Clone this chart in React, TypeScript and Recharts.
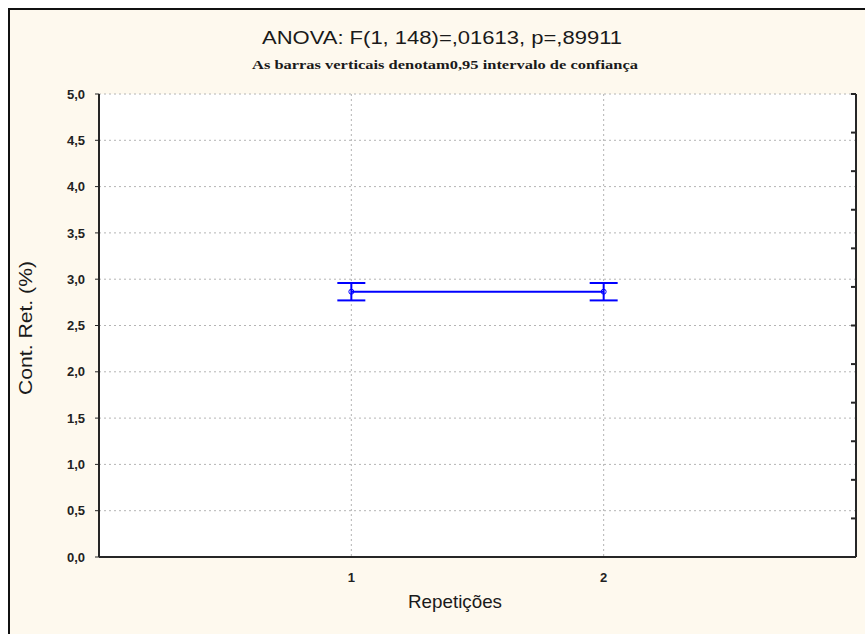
import React from "react";
import {
  ComposedChart,
  Line,
  XAxis,
  YAxis,
  CartesianGrid,
  ErrorBar,
  Customized,
} from "recharts";

// Mean and 95% CI half-width for each repetition
const repeticoes = [1, 2];
const medias = [2.865, 2.865];
const intervalos = [0.094, 0.094];
const yTicks = [0, 0.5, 1, 1.5, 2, 2.5, 3, 3.5, 4, 4.5, 5];
const rightTicks = [0, 1, 2, 3, 4, 5, 6, 7, 8, 9, 10, 11, 12];

const titulo = "ANOVA: F(1, 148)=,01613, p=,89911";
const subtitulo = "As barras verticais denotam0,95 intervalo de confiança";
const eixoY = "Cont. Ret. (%)";
const eixoX = "Repetições";

const data = repeticoes.map((r, i) => ({ x: r, media: medias[i], ic: intervalos[i] }));

const W = 865;
const H = 634;
const BG = "#fef9ee";
const AXIS = "#262626";
const BLUE = "#0000ff";

const fmt = (v: number) => v.toFixed(1).replace(".", ",");

const Textos = () => (
  <g fontFamily="'Liberation Sans', Arial, sans-serif" fill="#1a1a1a">
    <text x={442} y={44} fontSize={18} textAnchor="middle" textLength={360} lengthAdjust="spacingAndGlyphs">
      {titulo}
    </text>
    <text
      x={445}
      y={69}
      fontSize={12}
      fontFamily="'Liberation Serif', 'Times New Roman', serif"
      fontWeight="bold"
      textAnchor="middle"
      textLength={386}
      lengthAdjust="spacingAndGlyphs"
    >
      {subtitulo}
    </text>
    <text
      x={0}
      y={0}
      fontSize={19}
      textAnchor="middle"
      textLength={134}
      lengthAdjust="spacingAndGlyphs"
      transform="translate(32, 328) rotate(-90)"
    >
      {eixoY}
    </text>
    <text x={455} y={608} fontSize={19} textAnchor="middle" textLength={94} lengthAdjust="spacingAndGlyphs">
      {eixoX}
    </text>
  </g>
);

// right axis carries unlabeled inner ticks only
const TickVazio = () => <g />;

export default function App() {
  return (
    <div style={{ position: "absolute", left: 0, top: 0, width: W, height: H, overflow: "hidden", background: "#fff" }}>
      <div
        style={{
          position: "absolute",
          left: 8,
          top: 8,
          width: W,
          height: H,
          background: BG,
          borderLeft: "2px solid #111",
          borderTop: "2px solid #111",
          boxSizing: "border-box",
        }}
      />
      <div style={{ position: "absolute", left: 0, top: 0 }}>
        <ComposedChart width={W} height={H} data={data} margin={{ top: 94, right: 8, bottom: 37, left: 0 }}>
          <CartesianGrid stroke="#b4b4b4" strokeDasharray="2 3" fill="#ffffff" fillOpacity={1} />
          <XAxis
            dataKey="x"
            type="number"
            domain={[0, 3]}
            ticks={repeticoes}
            height={40}
            axisLine={{ stroke: AXIS, strokeWidth: 2 }}
            tickLine={{ stroke: "none" }}
            tickSize={4}
            tickMargin={12}
            tick={{ fontSize: 13, fontWeight: "bold", fill: "#222", fontFamily: "'Liberation Sans', Arial, sans-serif" }}
          />
          <XAxis
            xAxisId="top"
            dataKey="x"
            type="number"
            orientation="top"
            domain={[0, 3]}
            allowDataOverflow
            height={0}
            tick={false}
            axisLine={{ stroke: AXIS, strokeWidth: 2 }}
          />
          <YAxis
            type="number"
            domain={[0, 5]}
            ticks={yTicks}
            width={99}
            interval={0}
            axisLine={{ stroke: AXIS, strokeWidth: 2 }}
            tickLine={{ stroke: AXIS }}
            tickSize={4}
            tickMargin={10}
            tickFormatter={fmt}
            tick={{ fontSize: 13, fontWeight: "bold", fill: "#222", fontFamily: "'Liberation Sans', Arial, sans-serif" }}
          />
          <YAxis
            yAxisId="right"
            orientation="right"
            type="number"
            domain={[0, 12]}
            allowDataOverflow
            ticks={rightTicks}
            interval={0}
            width={1}
            axisLine={{ stroke: AXIS, strokeWidth: 2 }}
            tickLine={{ stroke: AXIS, strokeWidth: 2 }}
            tickSize={-5}
            tick={TickVazio}
          />
          <Line
            dataKey="media"
            stroke={BLUE}
            strokeWidth={2}
            dot={{ r: 2.5, stroke: BLUE, strokeWidth: 1, fill: "none" }}
            isAnimationActive={false}
          >
            <ErrorBar dataKey="ic" direction="y" width={14} stroke={BLUE} strokeWidth={2} isAnimationActive={false} />
          </Line>
          <Customized component={Textos} />
        </ComposedChart>
      </div>
    </div>
  );
}
